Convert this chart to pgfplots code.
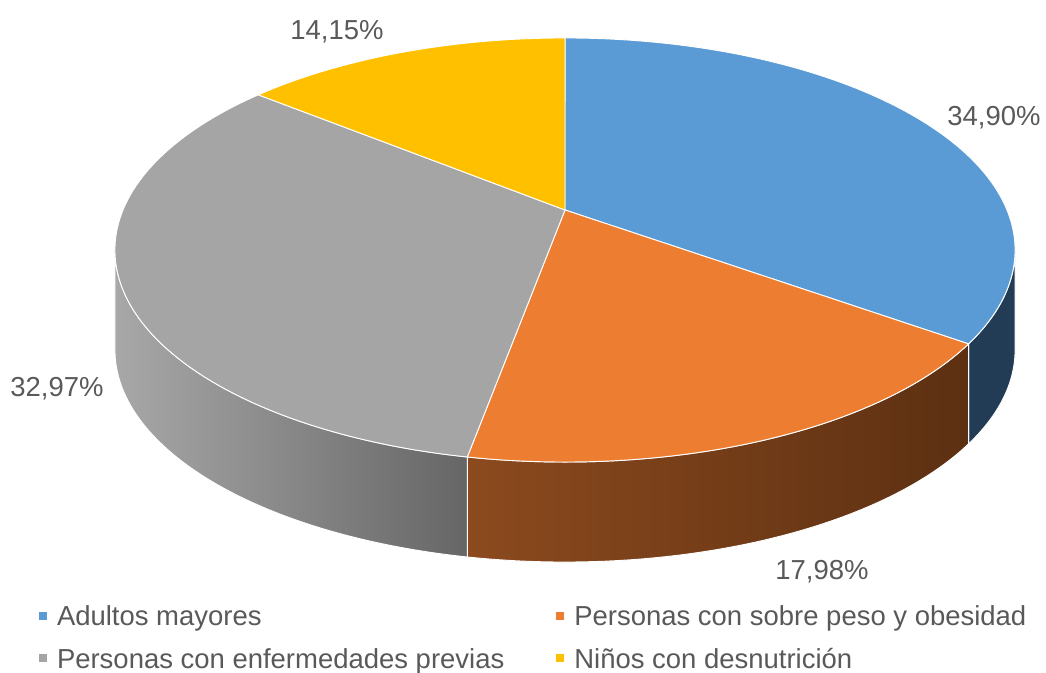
\documentclass[border=0pt]{standalone}
\usepackage{pgfplots}
\pgfplotsset{compat=1.18}
\usepackage{fontspec}
\setmainfont{Liberation Sans}
\definecolor{cBlue}{HTML}{5B9BD5}
\definecolor{cOrange}{HTML}{ED7D31}
\definecolor{cGray}{HTML}{A5A5A5}
\definecolor{cYellow}{HTML}{FFC000}
\definecolor{cBlueSide}{RGB}{34,60,86}
\definecolor{cOrangeL}{RGB}{140,74,30}
\definecolor{cOrangeR}{RGB}{92,48,18}
\definecolor{cGrayL}{RGB}{168,168,168}
\definecolor{cGrayR}{RGB}{102,102,102}
\definecolor{cText}{HTML}{595959}
% data (percent)
\def\va{34.90}
\def\vb{17.98}
\def\vc{32.97}
\def\vd{14.15}
\pgfmathsetmacro\tA{90}
\pgfmathsetmacro\tB{\tA-3.6*\va}
\pgfmathsetmacro\tC{\tB-3.6*\vb}
\pgfmathsetmacro\tD{\tC-3.6*\vc}
\pgfmathsetmacro\tE{\tD-3.6*\vd}
\newcommand\lblfont{\fontsize{20.6}{24}\selectfont}
\begin{document}
\begin{tikzpicture}
\begin{axis}[
  scale only axis, width=784.5pt, height=504.75pt,
  xmin=0, xmax=1046, ymin=0, ymax=673,
  hide axis, clip=false,
  declare function={
    rimx(\t)=565+442*cos(\t)/(1+0.1887*sin(\t));
    rimy(\t)=463+204.5*sin(\t)/(1+0.1887*sin(\t));
    sidet(\u,\a,\b)=ifthenelse(\u<1.01,\a+(\b-\a)*\u,\b-(\b-\a)*(\u-1.02)/0.98);
    sided(\u)=ifthenelse(\u<1.01,0,100);
  },
  legend columns=2,
  legend cell align=left,
  legend style={draw=none, fill=none, inner sep=0pt, outer sep=0pt,
    at={(axis description cs:0.0373,0.0996)}, anchor=north west,
    font=\lblfont, text=cText, column sep=7.5pt, row sep=12pt,
    nodes={inner sep=0pt, text height=15pt, text depth=5pt},
    /tikz/every even column/.append style={column sep=39pt}},
  legend image code/.code={\fill[#1,draw=none] (0pt,0.5ex-3pt) rectangle (6pt,0.5ex+3pt);},
]
% side walls
\addplot[forget plot, draw=white, line width=0.7pt, fill=cBlueSide, domain=0:2, samples=101, variable=\s]
  ({rimx(sidet(\s,\tB,-10.88))},{rimy(sidet(\s,\tB,-10.88))-sided(\s)}) -- cycle;
\addplot[forget plot, draw=white, line width=0.7pt, left color=cOrangeL, right color=cOrangeR, domain=0:2, samples=101, variable=\s]
  ({rimx(sidet(\s,\tC,\tB))},{rimy(sidet(\s,\tC,\tB))-sided(\s)}) -- cycle;
\addplot[forget plot, draw=white, line width=0.7pt, left color=cGrayL, right color=cGrayR, domain=0:2, samples=101, variable=\s]
  ({rimx(sidet(\s,-169.12,\tC))},{rimy(sidet(\s,-169.12,\tC))-sided(\s)}) -- cycle;
% top faces
\addplot[fill=cBlue, draw=white, line width=0.7pt, domain=\tB:\tA, samples=90, variable=\t]
  ({rimx(\t)},{rimy(\t)}) -- (axis cs:565,463) -- cycle;
\addlegendentry{Adultos mayores}
\addplot[fill=cOrange, draw=white, line width=0.7pt, domain=\tC:\tB, samples=60, variable=\t]
  ({rimx(\t)},{rimy(\t)}) -- (axis cs:565,463) -- cycle;
\addlegendentry{Personas con sobre peso y obesidad}
\addplot[fill=cGray, draw=white, line width=0.7pt, domain=\tD:\tC, samples=90, variable=\t]
  ({rimx(\t)},{rimy(\t)}) -- (axis cs:565,463) -- cycle;
\addlegendentry{Personas con enfermedades previas}
\addplot[fill=cYellow, draw=white, line width=0.7pt, domain=\tE:\tD, samples=50, variable=\t]
  ({rimx(\t)},{rimy(\t)}) -- (axis cs:565,463) -- cycle;
\addlegendentry{Niños con desnutrición}
% data labels
\node[font=\lblfont, text=cText] at (axis cs:994,555) {34,90\%};
\node[font=\lblfont, text=cText] at (axis cs:822,101) {17,98\%};
\node[font=\lblfont, text=cText] at (axis cs:57,284) {32,97\%};
\node[font=\lblfont, text=cText] at (axis cs:337,641) {14,15\%};
\end{axis}
\pgfresetboundingbox
\path[use as bounding box] (0,0) rectangle (784.5pt,504.75pt);
\end{tikzpicture}
\end{document}
